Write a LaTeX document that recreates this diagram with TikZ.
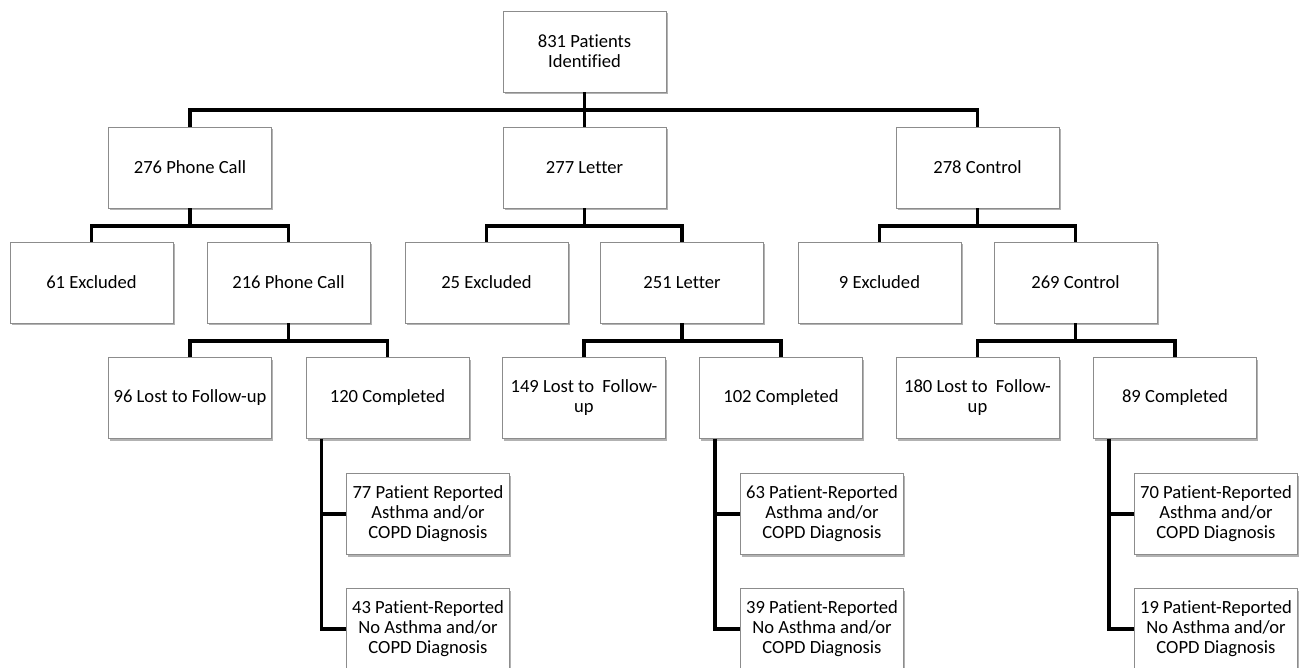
\documentclass[tikz,border=0pt]{standalone}
\usepackage{fontspec}
\setmainfont{Carlito}[Ligatures=NoCommon]
\usetikzlibrary{shadows,calc}
\tikzset{
  box/.style={draw=black!45, line width=0.9pt, fill=white, minimum width=163pt, minimum height=81pt,
    inner sep=0pt, align=center, font=\fontsize{18.6}{20}\selectfont,
    drop shadow={shadow xshift=1.5pt, shadow yshift=-2pt, fill=black, opacity=0.3}},
  conn/.style={line width=3.2pt, line join=miter, black}
}
\begin{document}
\begin{tikzpicture}[x=1pt,y=-1pt]
\useasboundingbox (0,0) rectangle (1304,667);
% level 0
\node[box] (root) at (584.5,51.5) {831 Patients\\Identified};
% level 1
\node[box] (pc) at (190,167.5) {276 Phone Call};
\node[box] (le) at (584.5,167.5) {277 Letter};
\node[box] (co) at (977.5,167.5) {278 Control};
% level 2
\node[box] (pcx) at (91.5,282.5) {61 Excluded};
\node[box] (pc2) at (288.5,282.5) {216 Phone Call};
\node[box] (lex) at (486.5,282.5) {25 Excluded};
\node[box] (le2) at (682,282.5) {251 Letter};
\node[box] (cox) at (879.5,282.5) {9 Excluded};
\node[box] (co2) at (1075.5,282.5) {269 Control};
% level 3
\node[box] (pcl) at (190,398) {96 Lost to Follow-up};
\node[box] (pcc) at (387.5,398) {120 Completed};
\node[box] (lel) at (584,398) {149 Lost to \ Follow-\\up};
\node[box] (lec) at (781,398) {102 Completed};
\node[box] (col) at (977.5,398) {180 Lost to \ Follow-\\up};
\node[box] (coc) at (1175,398) {89 Completed};
% level 4/5
\node[box] (pca) at (428,514) {77 Patient Reported\\Asthma and/or\\COPD Diagnosis};
\node[box] (pcn) at (428,629) {43 Patient-Reported\\No Asthma and/or\\COPD Diagnosis};
\node[box] (lea) at (822,514) {63 Patient-Reported\\Asthma and/or\\COPD Diagnosis};
\node[box] (len) at (822,629) {39 Patient-Reported\\No Asthma and/or\\COPD Diagnosis};
\node[box] (coa) at (1216,514) {70 Patient-Reported\\Asthma and/or\\COPD Diagnosis};
\node[box] (con) at (1216,629) {19 Patient-Reported\\No Asthma and/or\\COPD Diagnosis};
% connectors
\foreach \p/\c in {root/pc,root/le,root/co,pc/pcx,pc/pc2,le/lex,le/le2,co/cox,co/co2,pc2/pcl,pc2/pcc,le2/lel,le2/lec,co2/col,co2/coc}
  \draw[conn] (\p.south) -- ++(0,17.5) -| (\c.north);
\coordinate (tp) at ($(pcc.south west)+(16,0)$);
\coordinate (tl) at ($(lec.south west)+(16,0)$);
\coordinate (tc) at ($(coc.south west)+(16,0)$);
\draw[conn] (tp) |- (pca.west);
\draw[conn] (tp) |- (pcn.west);
\draw[conn] (tl) |- (lea.west);
\draw[conn] (tl) |- (len.west);
\draw[conn] (tc) |- (coa.west);
\draw[conn] (tc) |- (con.west);
\end{tikzpicture}
\end{document}
